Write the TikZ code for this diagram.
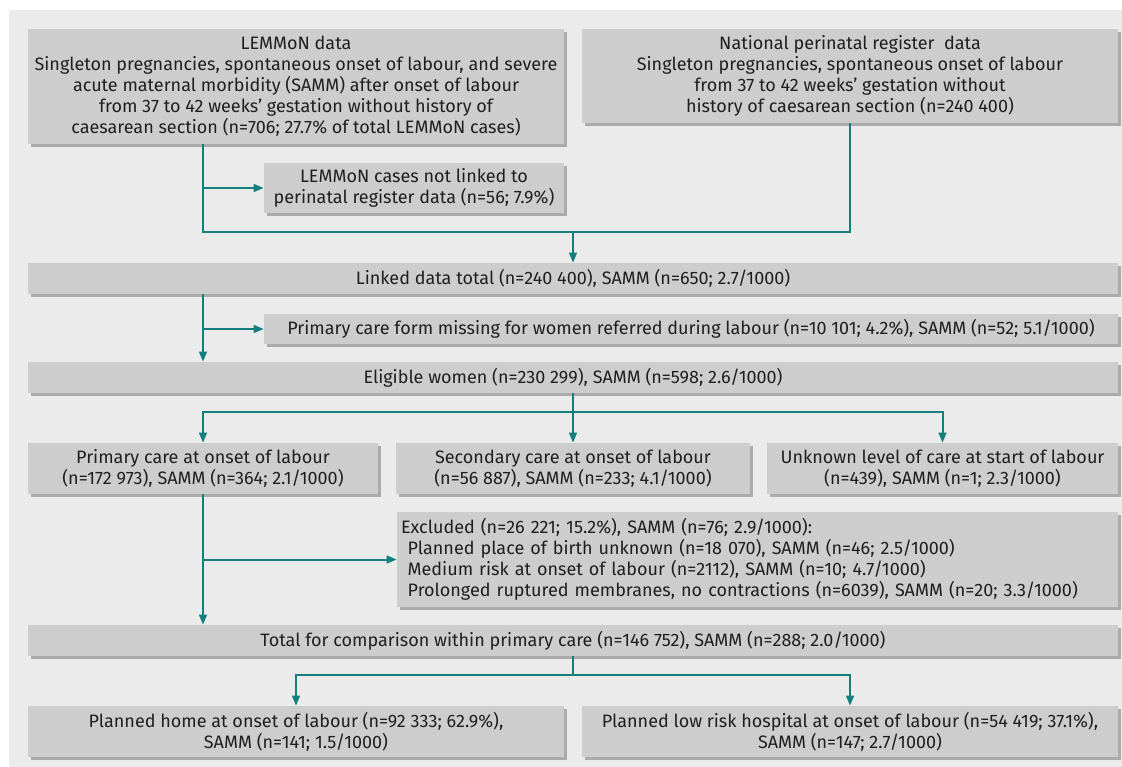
\documentclass[tikz,border=0pt]{standalone}
\usepackage{fontspec}
\setmainfont{Fira Sans}
\usetikzlibrary{arrows.meta,shadows}
\definecolor{bggray}{HTML}{EBEBEB}
\definecolor{boxgray}{HTML}{CDCDCD}
\definecolor{shadegray}{HTML}{ABABAB}
\definecolor{flowteal}{HTML}{13807F}
\tikzset{
	box/.style 2 args={fill=boxgray,text=black!88,inner sep=0pt,align=center,minimum width=#1*0.75pt,minimum height=#2*0.75pt,drop shadow={shadow xshift=2.2pt,shadow yshift=-2.2pt,fill=shadegray,opacity=1}},
	lbox/.style 2 args={box={#1}{#2},align=left,text width=#1*0.75pt-6pt},
	conn/.style={draw=flowteal,line width=1.5pt},
	arr/.style={conn,-{Triangle[length=7.5pt,width=5.8pt]}}
}

\begin{document}
\begin{tikzpicture}[x=0.75pt,y=-0.75pt,font=\fontsize{13.5}{15.75}\selectfont]
						\useasboundingbox (0,0) rectangle (1122,767);
						\fill[white] (0,0) rectangle (1122,767);
						\fill[bggray] (9,10) rectangle (1122,767);

						\node (lemmon) [box={536}{115}] at (296,86.5) {LEMMoN data\\Singleton pregnancies, spontaneous onset of labour, and severe\\acute maternal morbidity (SAMM) after onset of labour\\from 37 to 42 weeks’ gestation without history of\\caesarean section (n=706; 27.7\% of total LEMMoN cases)};
						\node (national) [box={536}{94}] at (850,76) {National perinatal register~ data\\Singleton pregnancies, spontaneous onset of labour\\from 37 to 42 weeks’ gestation without\\history of caesarean section (n=240~400)};
						\node (notlinked) [box={300}{50}] at (414,188) {LEMMoN cases not linked to\\perinatal register data (n=56; 7.9\%)};
						\node (linked) [box={1090}{31}] at (573,278.5) {Linked data total (n=240~400), SAMM (n=650; 2.7/1000)};
						\node (formmiss) [box={854}{30}] at (691,329) {Primary care form missing for women referred during labour (n=10~101; 4.2\%), SAMM (n=52; 5.1/1000)};
						\node (eligible) [box={1090}{31}] at (573,377.5) {Eligible women (n=230~299), SAMM (n=598; 2.6/1000)};
						\node (primary) [box={350}{51}] at (203,468.5) {Primary care at onset of labour\\(n=172~973), SAMM (n=364; 2.1/1000)};
						\node (secondary) [box={354}{51}] at (573,468.5) {Secondary care at onset of labour\\(n=56~887), SAMM (n=233; 4.1/1000)};
						\node (unknown) [box={351}{51}] at (942.5,468.5) {Unknown level of care at start of labour\\(n=439), SAMM (n=1; 2.3/1000)};
						\node (excluded) [lbox={721}{95}] at (757.5,559.5) {Excluded (n=26~221; 15.2\%), SAMM (n=76; 2.9/1000):\\\hspace*{5pt}Planned place of birth unknown (n=18~070), SAMM (n=46; 2.5/1000)\\\hspace*{5pt}Medium risk at onset of labour (n=2112), SAMM (n=10; 4.7/1000)\\\hspace*{5pt}Prolonged ruptured membranes, no contractions (n=6039), SAMM (n=20; 3.3/1000)};
						\node (total) [box={1090}{31}] at (573,640.5) {Total for comparison within primary care (n=146~752), SAMM (n=288; 2.0/1000)};
						\node (home) [box={536}{51}] at (296,731.5) {Planned home at onset of labour (n=92~333; 62.9\%),\\SAMM (n=141; 1.5/1000)};
						\node (hospital) [box={536}{51}] at (850,731.5) {Planned low risk hospital at onset of labour (n=54~419; 37.1\%),\\SAMM (n=147; 2.7/1000)};

						\coordinate (j1) at (203,232);
						\coordinate (j2) at (573,412);
						\coordinate (j3) at (573,675);

						\draw[conn] (lemmon.south -| j1) -- (j1) -| (national.south);
						\draw[arr] (lemmon.south -| j1) |- (notlinked.west);
						\draw[arr] (j1 -| linked.north) -- (linked.north);
						\draw[arr] (linked.south -| j1) -- (eligible.north -| j1);
						\draw[arr] (linked.south -| j1) |- (formmiss.west);
						\draw[arr] (eligible.south) -- (secondary.north);
						\draw[arr] (j2) -| (primary.north);
						\draw[arr] (j2) -| (unknown.north);
						\draw[arr] (primary.south) -- (primary.south |- total.north);
						\draw[arr] (primary.south) |- (excluded.west);
						\draw[conn] (total.south) -- (j3);
						\draw[arr] (j3) -| (home.north);
						\draw[arr] (j3) -| (hospital.north);
					\end{tikzpicture}
\end{document}
